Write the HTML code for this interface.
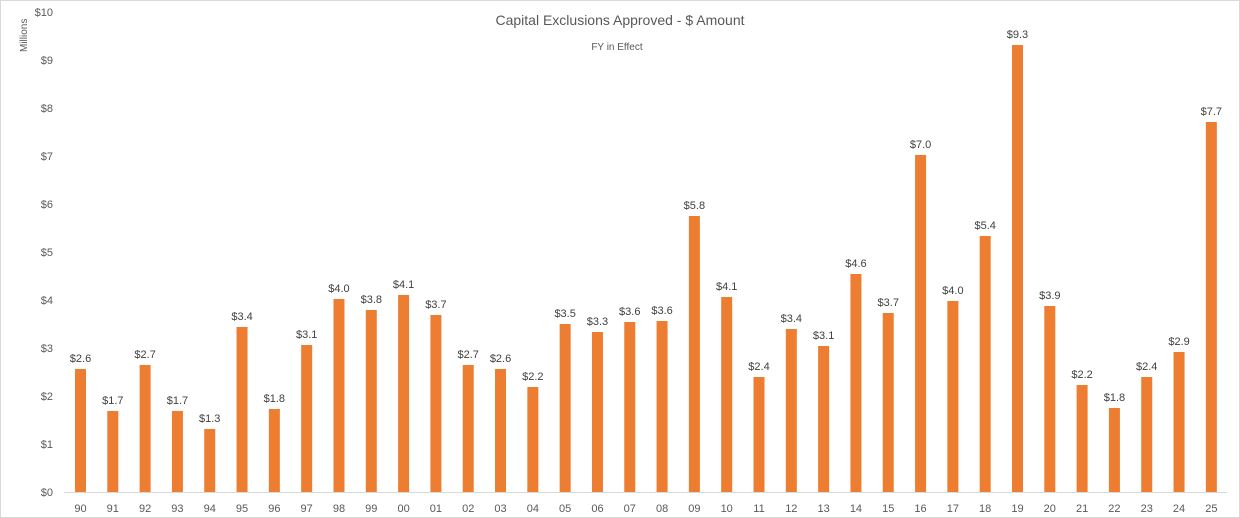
<!DOCTYPE html>
<html><head><meta charset="utf-8"><style>
body{margin:0;background:#fff;}
svg{display:block;font-family:"Liberation Sans",sans-serif;}
</style></head><body>
<svg width="1240" height="518" viewBox="0 0 1240 518">
<rect x="0.5" y="0.5" width="1239" height="517" fill="#fff" stroke="#d9d9d9"/>
<text x="620" y="25" font-size="14" fill="#595959" text-anchor="middle">Capital Exclusions Approved - $ Amount</text>
<text x="617" y="50" font-size="10" fill="#595959" text-anchor="middle">FY in Effect</text>
<text transform="translate(27,52) rotate(-90)" font-size="10" fill="#595959">Millions</text>
<g font-size="11" fill="#595959" text-anchor="end" id="yl"></g>
<line x1="64" y1="492.5" x2="1227" y2="492.5" stroke="#d9d9d9"/>
<g id="bars"></g>
</svg>
<script>
var ns="http://www.w3.org/2000/svg";
var yl=document.getElementById("yl");
for(var i=0;i<=10;i++){var t=document.createElementNS(ns,"text");t.setAttribute("x",53);t.setAttribute("y",492-48*i+4);t.textContent="$"+i;yl.appendChild(t);}
var cats=["90","91","92","93","94","95","96","97","98","99","00","01","02","03","04","05","06","07","08","09","10","11","12","13","14","15","16","17","18","19","20","21","22","23","24","25"];
var vals=[2.6,1.7,2.7,1.7,1.3,3.4,1.8,3.1,4.0,3.8,4.1,3.7,2.7,2.6,2.2,3.5,3.3,3.6,3.6,5.8,4.1,2.4,3.4,3.1,4.6,3.7,7.0,4.0,5.4,9.3,3.9,2.2,1.8,2.4,2.9,7.7];
var tops=[369,411,365,411,429,327,409,345,299,310,295,315,365,369,387,324,332,322,321,216,297,377,329,346,274,313,155,301,236,45,306,385,408,377,352,122];
var g=document.getElementById("bars");
for(var i=0;i<36;i++){
 var cx=80.5+i*32.31;
 var r=document.createElementNS(ns,"rect");
 r.setAttribute("x",cx-5.5);r.setAttribute("y",tops[i]);r.setAttribute("width",11);r.setAttribute("height",492-tops[i]);r.setAttribute("fill","#ed7d31");g.appendChild(r);
 var t=document.createElementNS(ns,"text");t.setAttribute("x",cx);t.setAttribute("y",tops[i]-7);t.setAttribute("font-size","11");t.setAttribute("fill","#404040");t.setAttribute("text-anchor","middle");t.textContent="$"+vals[i].toFixed(1);g.appendChild(t);
 var c=document.createElementNS(ns,"text");c.setAttribute("x",cx);c.setAttribute("y",512);c.setAttribute("font-size","11");c.setAttribute("fill","#595959");c.setAttribute("text-anchor","middle");c.textContent=cats[i];g.appendChild(c);
}
</script>
</body></html>
